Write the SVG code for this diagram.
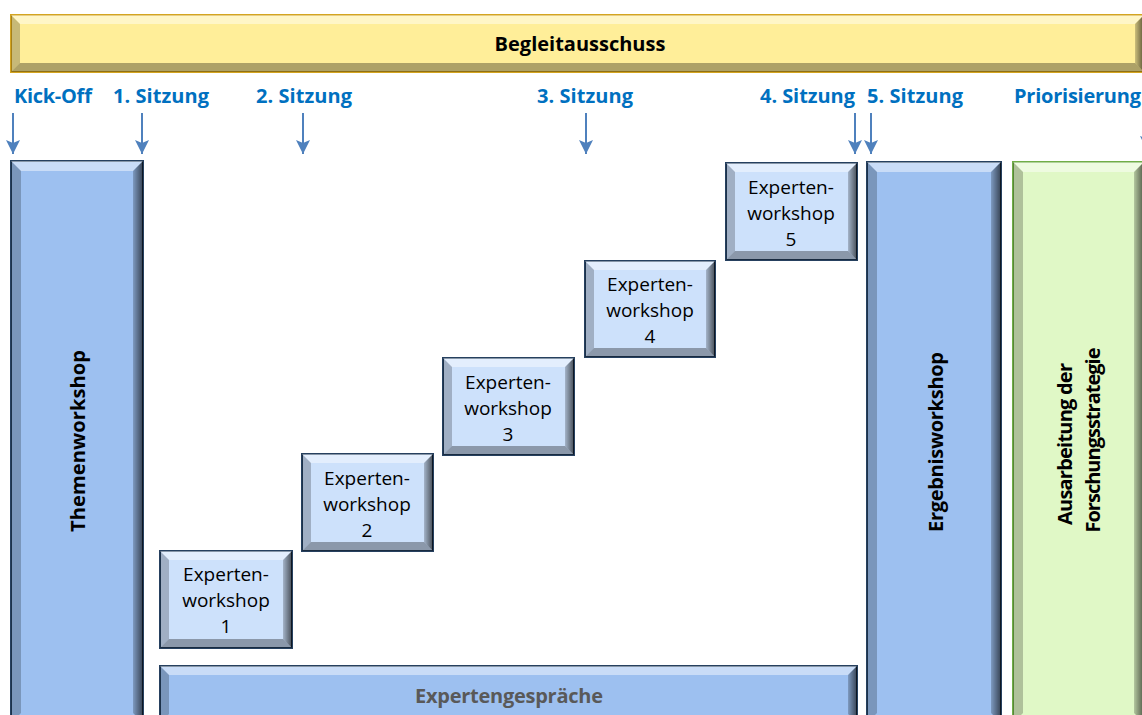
<svg xmlns="http://www.w3.org/2000/svg" width="1142" height="715" viewBox="0 0 1142 715">
<defs>
<style>
.lbl{font-family:"Open Sans","Liberation Sans",sans-serif;font-weight:bold;font-size:20px;fill:#0070C0;}
.bt{font-family:"Open Sans","Liberation Sans",sans-serif;font-weight:bold;font-size:20px;fill:#000;}
.ew{font-family:"Open Sans","Liberation Sans",sans-serif;font-size:19px;fill:#000;text-anchor:middle;}
.hl{fill:#ffffff;opacity:0.45;}
.lf{fill:#000;opacity:0.22;}
.rt{fill:url(#rshade);}
.bm{fill:#000;opacity:0.32;}
.blue{fill:#9DC0F0;stroke:#26405f;stroke-width:2;}
.lblue{fill:#CDE1FB;stroke:#26405f;stroke-width:2;}
.green{fill:#E0F8C6;stroke:#70AD47;stroke-width:2;}
.yellow{fill:#FFEE99;stroke:#D4A520;stroke-width:2;}
.arr{stroke:#4F81BD;stroke-width:2;fill:none;marker-end:url(#ah);}
</style>
<linearGradient id="rshade" x1="0" y1="0" x2="1" y2="0">
<stop offset="0" stop-color="#000" stop-opacity="0.2"/>
<stop offset="1" stop-color="#000" stop-opacity="0.65"/>
</linearGradient>
<marker id="ah" markerUnits="userSpaceOnUse" markerWidth="15" markerHeight="14" refX="14" refY="7" orient="auto">
<path d="M0,0 L14,7 L0,14 L3,7 z" fill="#4F81BD"/>
</marker>
</defs>
<rect width="1142" height="715" fill="#fff"/>

<g id="begleitausschuss">
<rect class="yellow" x="11" y="15" width="1133" height="57"/>
<polygon class="hl" points="11,15 1144,15 1135,24 20,24"/>
<polygon class="lf" points="11,15 20,24 20,63 11,72"/>
<polygon class="rt" points="1144,15 1144,72 1135,63 1135,24"/>
<polygon class="bm" points="11,72 20,63 1135,63 1144,72"/>
<text class="bt" x="580" y="51" text-anchor="middle">Begleitausschuss</text>
</g>

<g id="labels">
<text class="lbl" x="14" y="103" textLength="78">Kick-Off</text>
<text class="lbl" x="113" y="103" textLength="96">1. Sitzung</text>
<text class="lbl" x="256" y="103" textLength="96">2. Sitzung</text>
<text class="lbl" x="537" y="103" textLength="96">3. Sitzung</text>
<text class="lbl" x="760" y="103" textLength="95">4. Sitzung</text>
<text class="lbl" x="867" y="103" textLength="96">5. Sitzung</text>
<text class="lbl" x="1014" y="103" textLength="127">Priorisierung</text>
</g>

<g id="connectors">
<line class="arr" x1="13" y1="113" x2="13" y2="154"/>
<line class="arr" x1="142" y1="113" x2="142" y2="154"/>
<line class="arr" x1="303" y1="113" x2="303" y2="154"/>
<line class="arr" x1="586" y1="113" x2="586" y2="154"/>
<line class="arr" x1="855" y1="113" x2="855" y2="154"/>
<line class="arr" x1="871" y1="113" x2="871" y2="154"/>
<line class="arr" x1="1147" y1="108" x2="1147" y2="150"/>
</g>

<g id="themenworkshop">
<rect class="blue" x="11" y="161" width="132" height="562"/>
<polygon class="hl" points="11,161 143,161 133,171 21,171"/>
<polygon class="lf" points="11,161 21,171 21,713 11,723"/>
<polygon class="rt" points="143,161 143,723 133,713 133,171"/>
<text class="bt" transform="translate(85,441) rotate(-90)" text-anchor="middle" textLength="182">Themenworkshop</text>
</g>

<g id="ew1">
<rect class="lblue" x="160" y="551" width="132" height="97"/>
<polygon class="hl" points="160,551 292,551 283,560 169,560"/>
<polygon class="lf" points="160,551 169,560 169,639 160,648"/>
<polygon class="rt" points="292,551 292,648 283,639 283,560"/>
<polygon class="bm" points="160,648 169,639 283,639 292,648"/>
<text class="ew" x="226" y="581">Experten-</text>
<text class="ew" x="226" y="607">workshop</text>
<text class="ew" x="226" y="633">1</text>
</g>

<g id="ew2">
<rect class="lblue" x="302" y="454" width="131" height="97"/>
<polygon class="hl" points="302,454 433,454 424,463 311,463"/>
<polygon class="lf" points="302,454 311,463 311,542 302,551"/>
<polygon class="rt" points="433,454 433,551 424,542 424,463"/>
<polygon class="bm" points="302,551 311,542 424,542 433,551"/>
<text class="ew" x="367" y="485">Experten-</text>
<text class="ew" x="367" y="511">workshop</text>
<text class="ew" x="367" y="537">2</text>
</g>

<g id="ew3">
<rect class="lblue" x="443" y="358" width="131" height="97"/>
<polygon class="hl" points="443,358 574,358 565,367 452,367"/>
<polygon class="lf" points="443,358 452,367 452,446 443,455"/>
<polygon class="rt" points="574,358 574,455 565,446 565,367"/>
<polygon class="bm" points="443,455 452,446 565,446 574,455"/>
<text class="ew" x="508" y="389">Experten-</text>
<text class="ew" x="508" y="415">workshop</text>
<text class="ew" x="508" y="441">3</text>
</g>

<g id="ew4">
<rect class="lblue" x="585" y="261" width="130" height="96"/>
<polygon class="hl" points="585,261 715,261 706,270 594,270"/>
<polygon class="lf" points="585,261 594,270 594,348 585,357"/>
<polygon class="rt" points="715,261 715,357 706,348 706,270"/>
<polygon class="bm" points="585,357 594,348 706,348 715,357"/>
<text class="ew" x="650" y="291">Experten-</text>
<text class="ew" x="650" y="317">workshop</text>
<text class="ew" x="650" y="343">4</text>
</g>

<g id="ew5">
<rect class="lblue" x="726" y="163" width="131" height="97"/>
<polygon class="hl" points="726,163 857,163 848,172 735,172"/>
<polygon class="lf" points="726,163 735,172 735,251 726,260"/>
<polygon class="rt" points="857,163 857,260 848,251 848,172"/>
<polygon class="bm" points="726,260 735,251 848,251 857,260"/>
<text class="ew" x="791" y="194">Experten-</text>
<text class="ew" x="791" y="220">workshop</text>
<text class="ew" x="791" y="246">5</text>
</g>

<g id="expertengespraeche">
<rect class="blue" x="160" y="666" width="697" height="57"/>
<polygon class="hl" points="160,666 857,666 848,675 169,675"/>
<polygon class="lf" points="160,666 169,675 169,714 160,723"/>
<polygon class="rt" points="857,666 857,723 848,714 848,675"/>
<text class="bt" x="509" y="703" text-anchor="middle" style="fill:#595959" textLength="188">Expertengespräche</text>
</g>

<g id="ergebnisworkshop">
<rect class="blue" x="867" y="162" width="134" height="561"/>
<polygon class="hl" points="867,162 1001,162 991,172 877,172"/>
<polygon class="lf" points="867,162 877,172 877,713 867,723"/>
<polygon class="rt" points="1001,162 1001,723 991,713 991,172"/>
<text class="bt" transform="translate(943,442) rotate(-90)" text-anchor="middle" textLength="180">Ergebnisworkshop</text>
</g>

<g id="forschungsstrategie">
<rect class="green" x="1013" y="162" width="131" height="561"/>
<polygon class="hl" points="1013,162 1144,162 1134,172 1023,172"/>
<polygon class="lf" points="1013,162 1023,172 1023,713 1013,723"/>
<polygon class="rt" points="1144,162 1144,723 1134,713 1134,172"/>
<text class="bt" transform="translate(1072,444) rotate(-90)" text-anchor="middle" textLength="162">Ausarbeitung der</text>
<text class="bt" transform="translate(1100,440) rotate(-90)" text-anchor="middle" textLength="185">Forschungsstrategie</text>
</g>
</svg>
